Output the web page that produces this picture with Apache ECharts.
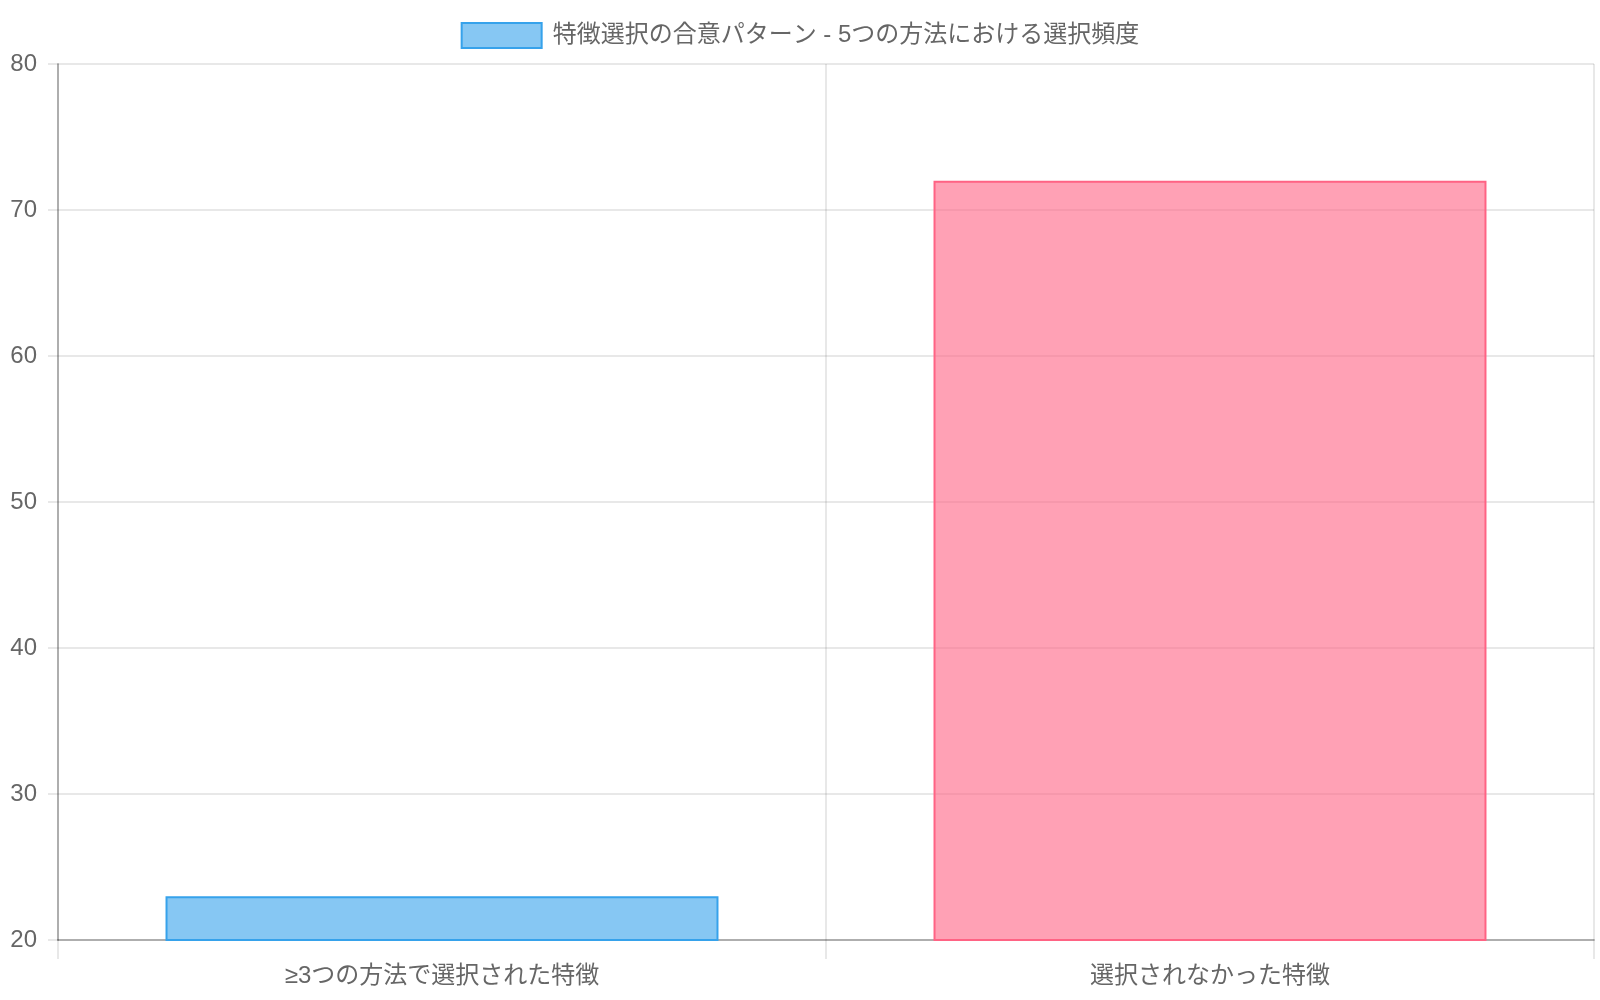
<!DOCTYPE html>
<html>
<head>
<meta charset="utf-8">
<script src="https://cdn.jsdelivr.net/npm/echarts@6/dist/echarts.min.js"></script>
<style>
  html, body { margin: 0; padding: 0; background: #fff; }
  #main { width: 1600px; height: 1000px; }
</style>
</head>
<body>
<div id="main"></div>
<script>
var seriesName = '特徴選択の合意パターン - 5つの方法における選択頻度';
var categories = ['≥3つの方法で選択された特徴', '選択されなかった特徴'];
var values = [23, 72];
var fills = ['rgba(54, 162, 235, 0.6)', 'rgba(255, 99, 132, 0.6)'];
var borders = ['rgb(54, 162, 235)', 'rgb(255, 99, 132)'];

var chartDom = document.getElementById('main');
var myChart = echarts.init(chartDom);
var font = '"Liberation Sans", "Noto Sans CJK JP", sans-serif';

var option = {
    animation: false,
    textStyle: { fontFamily: font },
    legend: {
        top: 17,
        left: 'center',
        icon: 'rect',
        itemWidth: 80,
        itemHeight: 25,
        itemGap: 10,
        textStyle: { color: '#666', fontSize: 24, fontFamily: font, padding: [0, 0, 0, 6] },
        itemStyle: { color: fills[0], borderColor: borders[0], borderWidth: 2 },
        data: [seriesName]
    },
    grid: { left: 58, right: 6, top: 64, bottom: 60 },
    xAxis: {
        type: 'category',
        data: categories,
        boundaryGap: true,
        axisLine: { show: true, lineStyle: { color: 'rgba(0,0,0,0.25)', width: 2 } },
        axisTick: { show: true, length: 19, lineStyle: { color: 'rgba(0,0,0,0.12)', width: 1.5 } },
        splitLine: { show: true, lineStyle: { color: 'rgba(0,0,0,0.12)', width: 1.5 } },
        axisLabel: { color: '#666', fontSize: 24, margin: 24, fontFamily: font }
    },
    yAxis: {
        type: 'value',
        min: 20,
        max: 80,
        interval: 10,
        axisLine: { show: true, lineStyle: { color: 'rgba(0,0,0,0.25)', width: 2 } },
        axisTick: { show: true, length: 10, lineStyle: { color: 'rgba(0,0,0,0.12)', width: 1.5 } },
        splitLine: { show: true, lineStyle: { color: 'rgba(0,0,0,0.12)', width: 1.5 } },
        axisLabel: { color: '#666', fontSize: 24, margin: 21, fontFamily: font }
    },
    series: [{
        name: seriesName,
        type: 'bar',
        barWidth: '72%',
        itemStyle: { color: fills[0], borderColor: borders[0], borderWidth: 2 },
        data: values.map(function (v, i) {
            return { value: v, itemStyle: { color: fills[i], borderColor: borders[i], borderWidth: 2 } };
        })
    }]
};

option && myChart.setOption(option);
</script>
</body>
</html>
